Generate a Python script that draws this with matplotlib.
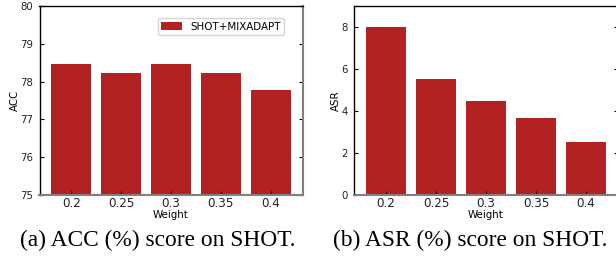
import matplotlib
matplotlib.use("Agg")
import matplotlib.pyplot as plt

weights = ["0.2", "0.25", "0.3", "0.35", "0.4"]
acc = [78.47, 78.22, 78.47, 78.22, 77.78]
asr = [8.0, 5.53, 4.48, 3.66, 2.52]
legend_label = "SHOT+MIXADAPT"
captions = ["(a) ACC (%) score on SHOT.", "(b) ASR (%) score on SHOT."]
color = "#B22222"

W, H = 616, 257
fig = plt.figure(figsize=(W / 100, H / 100), dpi=100)

def style(ax):
    ax.tick_params(direction="in", length=3, width=0.8, colors="black",
                   left=True, right=True, top=False, bottom=True)
    ax.tick_params(axis="x", labelsize=8.6, pad=1.5, labelcolor="#222222")
    ax.tick_params(axis="y", labelsize=7.3, pad=4.5, labelcolor="#222222")
    for s in ["top", "left"]:
        ax.spines[s].set_color("black")
        ax.spines[s].set_linewidth(1.0)
    for s in ["right", "bottom"]:
        ax.spines[s].set_color("#808080")
        ax.spines[s].set_linewidth(1.5)

ax1 = fig.add_axes([39.5 / W, 1 - 195 / H, 263 / W, 189 / H])
ax1.bar(range(len(weights)), acc, width=0.8, color=color, label=legend_label)
ax1.set_ylim(75, 80)
ax1.set_xticks(range(len(weights)))
ax1.set_xticklabels(weights)
ax1.set_ylabel("ACC", fontsize=7.4, labelpad=0)
ax1.set_xlabel("Weight", fontsize=7.4, labelpad=0)
style(ax1)
ax1.legend(loc="upper right", fontsize=7.4, frameon=True, fancybox=True,
           bbox_to_anchor=((284 - 39.5) / 263, (195 - 18) / 189),
           borderaxespad=0, handlelength=2.0, borderpad=0.35)

ax2 = fig.add_axes([354 / W, 1 - 195 / H, 264 / W, 189 / H])
ax2.bar(range(len(weights)), asr, width=0.8, color=color)
ax2.set_ylim(0, 9)
ax2.set_yticks([0, 2, 4, 6, 8])
ax2.set_xticks(range(len(weights)))
ax2.set_xticklabels(weights)
ax2.set_ylabel("ASR", fontsize=7.4, labelpad=0)
ax2.set_xlabel("Weight", fontsize=7.4, labelpad=0)
style(ax2)

fig.text(157.5 / W, 1 - 240 / H, captions[0], ha="center", va="center",
         fontsize=16.8, family="Liberation Serif")
fig.text(470 / W, 1 - 240 / H, captions[1], ha="center", va="center",
         fontsize=16.8, family="Liberation Serif")

fig.savefig("out.png", dpi=100)
